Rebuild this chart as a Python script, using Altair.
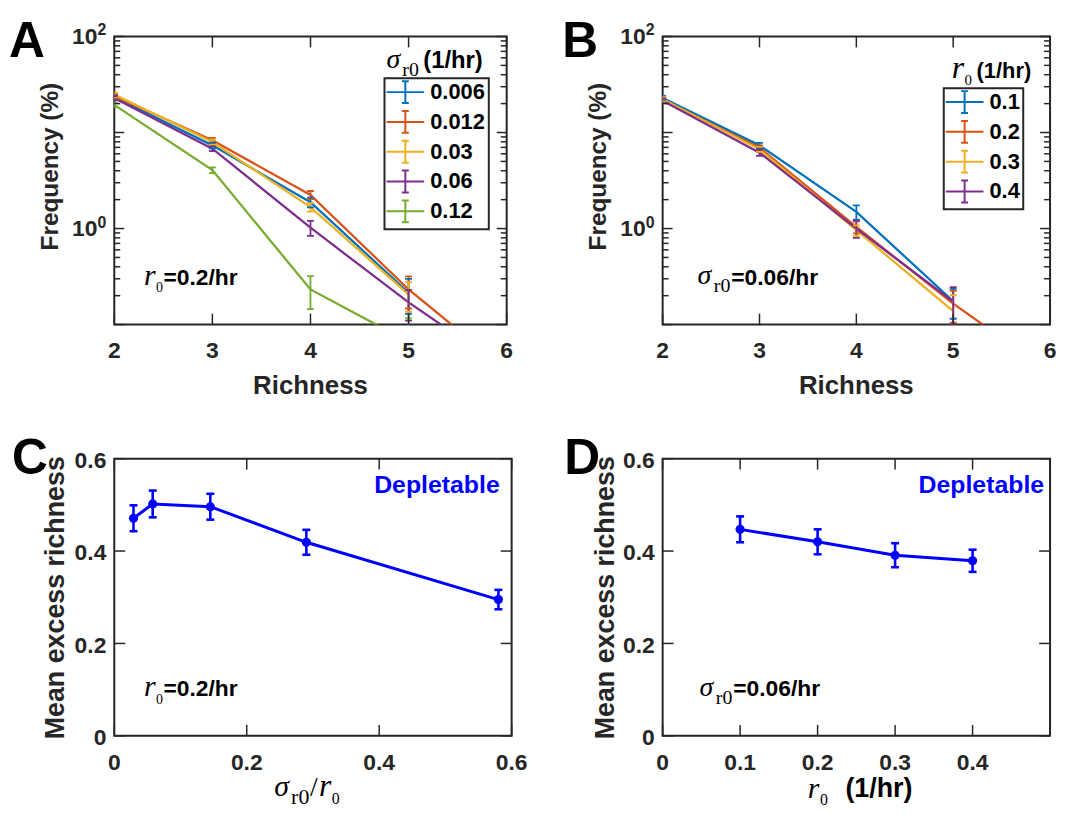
import altair as alt
import pandas as pd

FONT = "Liberation Sans"
SERIF = "Liberation Serif"
AXC = "#262626"
BLUE = "#0000FF"

# ---------------- data ----------------
richness = [2, 3, 4, 5, 6]
matlab_colors = ["#0072BD", "#D95319", "#EDB120", "#7E2F8E", "#77AC30"]

# Panel A : sigma_r0 series, frequency (%) at richness 2..6 (None = not drawn)
a_names = ["0.006", "0.012", "0.03", "0.06", "0.12"]
a_s006 = [23.3, 7.35, 1.88, 0.214, None]
a_s012 = [24.0, 8.3, 2.24, 0.232, 0.034]
a_s03 = [24.8, 7.95, 1.67, 0.206, None]
a_s06 = [22.8, 6.79, 1.02, 0.17, 0.034]
a_s12 = [19.4, 4.06, 0.232, 0.066, None]
a_e006 = [1.3, 0.5, 0.22, 0.085, None]
a_e012 = [1.3, 0.5, 0.22, 0.085, None]
a_e03 = [1.3, 0.5, 0.17, 0.07, None]
a_e06 = [1.2, 0.4, 0.18, 0.06, None]
a_e12 = [1.0, 0.28, 0.087, 0.05, None]

# Panel B : r0 series
b_names = ["0.1", "0.2", "0.3", "0.4"]
b_r01 = [22.8, 7.35, 1.49, 0.175, None]
b_r02 = [21.9, 6.95, 1.04, 0.165, 0.032]
b_r03 = [22.2, 6.68, 0.96, 0.138, None]
b_r04 = [21.4, 6.17, 1.0, 0.173, None]
b_e01 = [1.2, 0.45, 0.25, 0.06, None]
b_e02 = [1.2, 0.4, 0.15, 0.06, None]
b_e03 = [1.2, 0.4, 0.12, 0.064, None]
b_e04 = [1.2, 0.45, 0.2, 0.072, None]

# Panel C : mean excess richness vs sigma_r0 / r0
c_x = [0.029, 0.058, 0.145, 0.29, 0.58]
c_y = [0.471, 0.502, 0.496, 0.419, 0.295]
c_err = [0.028, 0.029, 0.028, 0.027, 0.021]

# Panel D : mean excess richness vs r0
d_x = [0.1, 0.2, 0.3, 0.4]
d_y = [0.447, 0.420, 0.391, 0.379]
d_err = [0.028, 0.027, 0.026, 0.024]

# ticks and tick labels
freq_xticks = [2, 3, 4, 5, 6]
freq_xlabels = ["2", "3", "4", "5", "6"]
freq_ymajor = [0.1, 1, 10, 100]
freq_yminor = [0.2, 0.3, 0.4, 0.5, 0.6, 0.7, 0.8, 0.9,
               2, 3, 4, 5, 6, 7, 8, 9,
               20, 30, 40, 50, 60, 70, 80, 90]
freq_ylabel_vals = [1, 100]
freq_ylabel_exp = ["0", "2"]
c_xticks = [0, 0.2, 0.4, 0.6]
c_xlabels = ["0", "0.2", "0.4", "0.6"]
d_xticks = [0, 0.1, 0.2, 0.3, 0.4, 0.5]
d_xlabel_vals = [0, 0.1, 0.2, 0.3, 0.4]
d_xlabels = ["0", "0.1", "0.2", "0.3", "0.4"]
me_yticks = [0, 0.2, 0.4, 0.6]
me_ylabels = ["0", "0.2", "0.4", "0.6"]

SYM = "M-1.9,0H1.9M0,-1.1V1.1M-0.35,-1.1H0.35M-0.35,1.1H0.35"


def txt(text, x, y, size, font=FONT, weight="bold", style="normal",
        color="black", align="left", baseline="alphabetic", angle=0):
    return alt.Chart(pd.DataFrame({"t": [text]})).mark_text(
        font=font, fontSize=size, fontWeight=weight, fontStyle=style,
        color=color, align=align, baseline=baseline, angle=angle
    ).encode(text="t:N", x=alt.value(x), y=alt.value(y))


def serif(text, x, y, size, italic=False):
    return txt(text, x, y, size, font=SERIF, weight="normal",
               style="italic" if italic else "normal")


def rows_from(field, names, vals, errs):
    line_rows, err_rows = [], []
    for n, v, e in zip(names, vals, errs):
        for x, y, d in zip(richness, v, e):
            if y is None:
                continue
            line_rows.append({field: n, "x": x, "y": y})
            if d is not None:
                err_rows.append({field: n, "x": x,
                                 "lo": max(y - d, 0.002), "hi": y + d})
    return pd.DataFrame(line_rows), pd.DataFrame(err_rows)


def inward_ticks(values, scale, W, H, length, xdir):
    base = alt.Chart(pd.DataFrame({"v": values})).mark_rule(color=AXC, strokeWidth=1.5)
    if xdir:
        enc = alt.X("v:Q", scale=scale, axis=None)
        return [base.encode(x=enc, y=alt.value(H), y2=alt.value(H - length)),
                base.encode(x=enc, y=alt.value(0), y2=alt.value(length))]
    enc = alt.Y("v:Q", scale=scale, axis=None)
    return [base.encode(y=enc, x=alt.value(0), x2=alt.value(length)),
            base.encode(y=enc, x=alt.value(W), x2=alt.value(W - length))]


def x_labels(values, texts, scale, y, size=23):
    return alt.Chart(pd.DataFrame({"v": values, "t": texts})).mark_text(
        font=FONT, fontSize=size, fontWeight="bold", color=AXC, align="center",
        baseline="alphabetic").encode(
        x=alt.X("v:Q", scale=scale, axis=None), y=alt.value(y), text="t:N")


def y_labels(values, texts, scale, x, size=23, dy=9.5):
    return alt.Chart(pd.DataFrame({"v": values, "t": texts})).mark_text(
        font=FONT, fontSize=size, fontWeight="bold", color=AXC, align="right",
        baseline="alphabetic", dy=dy).encode(
        y=alt.Y("v:Q", scale=scale, axis=None), x=alt.value(x), text="t:N")


def freq_panel(W, H, field, names, vals, errs, leg_xy, letter, letter_x,
               ytitle_x, extras):
    ldf, edf = rows_from(field, names, vals, errs)
    xs = alt.Scale(domain=[2, 6], nice=False, zero=False)
    ys = alt.Scale(type="log", domain=[0.1, 100], nice=False)
    cs = alt.Scale(domain=names, range=matlab_colors[:len(names)])
    legend = alt.Legend(orient="none", legendX=leg_xy[0], legendY=leg_xy[1],
                        title=None, symbolType=SYM, symbolSize=400,
                        symbolStrokeWidth=2, symbolOffset=7, labelOffset=14,
                        labelFont=FONT, labelFontSize=22, labelFontWeight="bold",
                        labelColor="black", padding=3, rowPadding=0,
                        strokeColor=AXC, fillColor="white", labelLimit=300)
    col = alt.Color(field + ":N", scale=cs, legend=None, sort=names)
    X = alt.X("x:Q", scale=xs, axis=None)
    lines = alt.Chart(ldf).mark_line(clip=True, strokeWidth=2.3).encode(
        x=X, y=alt.Y("y:Q", scale=ys, axis=None),
        color=alt.Color(field + ":N", scale=cs, legend=legend, sort=names),
    )
    bars = alt.Chart(edf).mark_rule(clip=True, strokeWidth=1.8).encode(
        x=X, y=alt.Y("lo:Q", scale=ys, axis=None), y2="hi:Q", color=col)
    caps = [alt.Chart(edf).mark_tick(orient="horizontal", size=7, thickness=1.8,
                                     clip=True, opacity=1).encode(
        x=X, y=alt.Y(f + ":Q", scale=ys, axis=None), color=col) for f in ("lo", "hi")]
    ylab = pd.DataFrame({"v": freq_ylabel_vals, "b": ["10"] * len(freq_ylabel_vals),
                         "e": freq_ylabel_exp})
    base_lab = alt.Chart(ylab).mark_text(font=FONT, fontSize=23, fontWeight="bold",
                                         color=AXC, align="right",
                                         baseline="alphabetic", dy=8).encode(
        y=alt.Y("v:Q", scale=ys, axis=None), x=alt.value(-17), text="b:N")
    sup_lab = alt.Chart(ylab).mark_text(font=FONT, fontSize=16, fontWeight="bold",
                                        color=AXC, align="left",
                                        baseline="alphabetic", dy=-1).encode(
        y=alt.Y("v:Q", scale=ys, axis=None), x=alt.value(-17), text="e:N")
    layers = [lines, bars] + caps
    layers += inward_ticks(freq_xticks, xs, W, H, 11, True)
    layers += inward_ticks(freq_ymajor, ys, W, H, 10, False)
    layers += inward_ticks(freq_yminor, ys, W, H, 6, False)
    layers += [base_lab, sup_lab,
               x_labels(freq_xticks, freq_xlabels, xs, H + 34),
               txt("Richness", W / 2, H + 70, 26, color=AXC, align="center"),
               txt("Frequency (%)", ytitle_x, 131, 24.5, color=AXC,
                   align="center", angle=270),
               txt(letter, letter_x, -19, 50, baseline="top")]
    layers += extras
    return alt.layer(*layers).properties(width=W, height=H)


def me_panel(W, H, xv, yv, ev, xdomain, xticks, xlab_vals, xlab_txt, letter,
             letter_x, ytitle_x, dep_right, extras):
    df = pd.DataFrame({"x": xv, "y": yv,
                       "lo": [a - b for a, b in zip(yv, ev)],
                       "hi": [a + b for a, b in zip(yv, ev)]})
    xs = alt.Scale(domain=xdomain, nice=False, zero=False)
    ys = alt.Scale(domain=[0, 0.6], nice=False, zero=False)
    X = alt.X("x:Q", scale=xs, axis=None)
    line = alt.Chart(df).mark_line(color=BLUE, strokeWidth=3).encode(
        x=X, y=alt.Y("y:Q", scale=ys, axis=None))
    pts = alt.Chart(df).mark_circle(color=BLUE, size=85, opacity=1).encode(
        x=X, y=alt.Y("y:Q", scale=ys, axis=None))
    bars = alt.Chart(df).mark_rule(color=BLUE, strokeWidth=2.6).encode(
        x=X, y=alt.Y("lo:Q", scale=ys, axis=None), y2="hi:Q")
    caps = [alt.Chart(df).mark_tick(orient="horizontal", size=8, thickness=2.6,
                                    color=BLUE, opacity=1).encode(
        x=X, y=alt.Y(f + ":Q", scale=ys, axis=None)) for f in ("lo", "hi")]
    layers = [line, bars] + caps + [pts]
    layers += inward_ticks(xticks, xs, W, H, 11, True)
    layers += inward_ticks(me_yticks, ys, W, H, 11, False)
    layers += [x_labels(xlab_vals, xlab_txt, xs, H + 34),
               y_labels(me_yticks, me_ylabels, ys, -8),
               txt("Mean excess richness", ytitle_x, 140, 27, color=AXC,
                   align="center", angle=270),
               txt(letter, letter_x, -25, 50, baseline="top"),
               txt("Depletable", W - dep_right, 15, 25, color=BLUE, align="right",
                   baseline="top")]
    layers += extras
    return alt.layer(*layers).properties(width=W, height=H)


# annotations (positions relative to each plot area)
a_extra = [
    serif("σ", 274, 32, 28, italic=True),
    serif("r0", 290, 40, 20),
    txt("(1/hr)", 311, 32, 24),
    serif("r", 30, 250, 30, italic=True),
    serif("0", 42, 257, 14),
    txt("=0.2/hr", 49.5, 250, 23),
]
b_extra = [
    serif("r", 291, 42, 32, italic=True),
    serif("0", 304, 49, 15),
    txt("(1/hr)", 316, 42, 22),
    serif("σ", 35, 249, 28, italic=True),
    serif("r0", 51.5, 257, 20),
    txt("=0.06/hr", 69, 250, 23),
]
c_extra = [
    serif("r", 30, 239, 30, italic=True),
    serif("0", 42, 247, 14),
    txt("=0.2/hr", 49.5, 239, 23),
    serif("σ", 161, 340, 30, italic=True),
    serif("r0", 178, 348, 22),
    serif("/", 197, 340, 28),
    serif("r", 206, 340, 32, italic=True),
    serif("0", 219, 348, 16),
]
d_extra = [
    serif("σ", 37, 239, 28, italic=True),
    serif("r0", 53.5, 247, 20),
    txt("=0.06/hr", 71, 239, 23),
    serif("r", 146, 342, 30, italic=True),
    serif("0", 158.5, 349, 16),
    txt("(1/hr)", 184, 341, 27),
]

pA = freq_panel(395, 290, "sigma", a_names, [a_s006, a_s012, a_s03, a_s06, a_s12],
                [a_e006, a_e012, a_e03, a_e06, a_e12], (272, 42), "A", -106,
                -57, a_extra)
pB = freq_panel(390, 290, "rzero", b_names, [b_r01, b_r02, b_r03, b_r04],
                [b_e01, b_e02, b_e03, b_e04], (283, 52), "B", -101, -57, b_extra)
pC = me_panel(400, 279, c_x, c_y, c_err, [0, 0.6], c_xticks, c_xticks, c_xlabels,
              "C", -103, -51, 12, c_extra)
pD = me_panel(390, 279, d_x, d_y, d_err, [0, 0.5], d_xticks, d_xlabel_vals,
              d_xlabels, "D", -99, -49, 6, d_extra)

chart = alt.concat(
    pA, pB, pC, pD, columns=2, spacing={"row": 135, "column": 152},
    bounds="flush", padding={"top": 6, "left": 0, "right": 0, "bottom": 0},
).resolve_scale(
    color="independent"
).resolve_legend(
    color="independent"
).configure_view(
    stroke=AXC, strokeWidth=2
).configure_legend(strokeWidth=2)

chart.save("out.html", embed_options={"renderer": "svg", "actions": False})
